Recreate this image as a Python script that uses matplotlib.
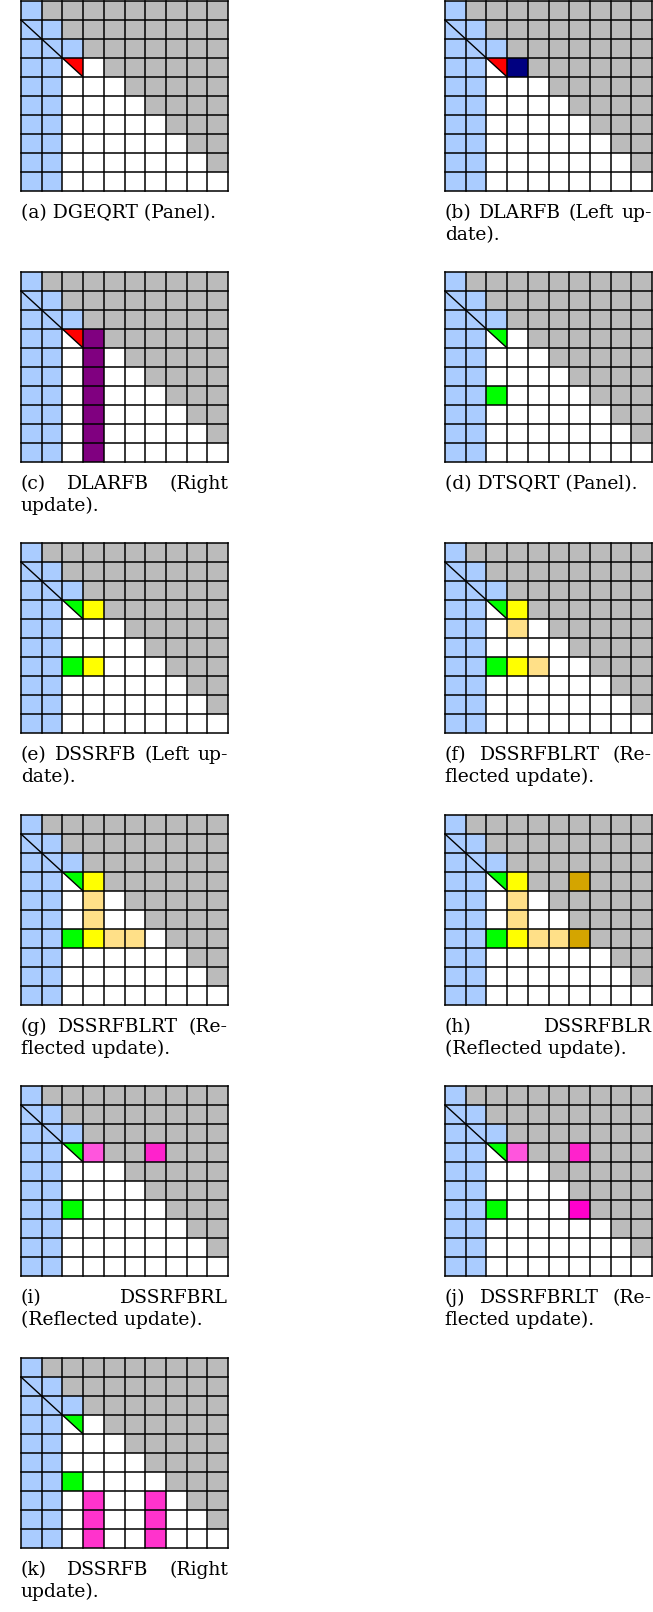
import matplotlib
matplotlib.use("Agg")
import matplotlib.pyplot as plt
from matplotlib.patches import Rectangle, Polygon

# ── 数据 ──
# base layout of the 10x10 tile matrix: B = blue (V), G = gray (R/untouched), W = white, T = split tile
BASE_ROWS = [
    "BGGGGGGGGG",
    "BBGGGGGGGG",
    "BBBGGGGGGG",
    "BBTWGGGGGG",
    "BBWWWGGGGG",
    "BBWWWWGGGG",
    "BBWWWWWGGG",
    "BBWWWWWWGG",
    "BBWWWWWWWG",
    "BBWWWWWWWW",
]
BASE_COLORS = {"B": "#aaccff", "G": "#bbbbbb", "W": "#ffffff", "T": "#ffffff"}

PANEL_IDS = ["a", "b", "c", "d", "e", "f", "g", "h", "i", "j", "k"]
TRI_COLORS = ["#ff0000", "#ff0000", "#ff0000", "#00ff00", "#00ff00", "#00ff00",
              "#00ff00", "#00ff00", "#00ff00", "#00ff00", "#00ff00"]

# highlighted tiles per panel: (row, col, colour)
HIGHLIGHTS = {
    "a": [],
    "b": [(3, 3, "#000080")],
    "c": [(3, 3, "#800080"), (4, 3, "#800080"), (5, 3, "#800080"), (6, 3, "#800080"),
          (7, 3, "#800080"), (8, 3, "#800080"), (9, 3, "#800080")],
    "d": [(6, 2, "#00ff00")],
    "e": [(3, 3, "#ffff00"), (6, 2, "#00ff00"), (6, 3, "#ffff00")],
    "f": [(3, 3, "#ffff00"), (4, 3, "#ffe088"), (6, 2, "#00ff00"), (6, 3, "#ffff00"),
          (6, 4, "#ffe088")],
    "g": [(3, 3, "#ffff00"), (4, 3, "#ffe088"), (5, 3, "#ffe088"), (6, 2, "#00ff00"),
          (6, 3, "#ffff00"), (6, 4, "#ffe088"), (6, 5, "#ffe088")],
    "h": [(3, 3, "#ffff00"), (4, 3, "#ffe088"), (5, 3, "#ffe088"), (6, 2, "#00ff00"),
          (6, 3, "#ffff00"), (6, 4, "#ffe088"), (6, 5, "#ffe088"),
          (3, 6, "#d4a500"), (6, 6, "#d4a500")],
    "i": [(3, 3, "#ff55dd"), (3, 6, "#ff22cc"), (6, 2, "#00ff00")],
    "j": [(3, 3, "#ff55dd"), (3, 6, "#ff22cc"), (6, 2, "#00ff00"), (6, 6, "#ff00cc")],
    "k": [(6, 2, "#00ff00"), (7, 3, "#ff33cc"), (8, 3, "#ff33cc"), (9, 3, "#ff33cc"),
          (7, 6, "#ff33cc"), (8, 6, "#ff33cc"), (9, 6, "#ff33cc")],
}

CAPTIONS = {
    "a": ["(a) DGEQRT (Panel)."],
    "b": ["(b) DLARFB (Left up-", "date)."],
    "c": ["(c) DLARFB (Right", "update)."],
    "d": ["(d) DTSQRT (Panel)."],
    "e": ["(e) DSSRFB (Left up-", "date)."],
    "f": ["(f) DSSRFBLRT (Re-", "flected update)."],
    "g": ["(g) DSSRFBLRT (Re-", "flected update)."],
    "h": ["(h) DSSRFBLR", "(Reflected update)."],
    "i": ["(i) DSSRFBRL", "(Reflected update)."],
    "j": ["(j) DSSRFBRLT (Re-", "flected update)."],
    "k": ["(k) DSSRFB (Right", "update)."],
}

# ── 版面 (像素) ──
W, H = 653, 1612
COL_X = [21, 445]
ROW_TOP = [1, 272, 543, 815, 1086, 1358]
GRID_W, GRID_H = 207, 190
FS = 13.5
LW = 1.1


def draw_grid(ax, pid, tri_color):
    n = len(BASE_ROWS)
    for r, row in enumerate(BASE_ROWS):
        for c, code in enumerate(row):
            ax.add_patch(Rectangle((c, r), 1, 1, facecolor=BASE_COLORS[code],
                                   edgecolor="none", clip_on=False))
    for r, c, col in HIGHLIGHTS[pid]:
        ax.add_patch(Rectangle((c, r), 1, 1, facecolor=col, edgecolor="none",
                               clip_on=False))
    # split tile: upper-right triangle coloured
    for r, row in enumerate(BASE_ROWS):
        for c, code in enumerate(row):
            if code == "T":
                ax.add_patch(Polygon([(c, r), (c + 1, r), (c + 1, r + 1)],
                                     closed=True, facecolor=tri_color,
                                     edgecolor="none", clip_on=False))
    for k in range(n + 1):
        ax.plot([0, n], [k, k], color="black", lw=LW, clip_on=False,
                solid_capstyle="projecting")
        ax.plot([k, k], [0, n], color="black", lw=LW, clip_on=False,
                solid_capstyle="projecting")
    ax.plot([0, 3], [1, 4], color="black", lw=LW * 0.9, clip_on=False)
    ax.set_xlim(0, n)
    ax.set_ylim(n, 0)
    ax.axis("off")


def place_caption(fig, renderer, lines, x0, x1, y_base):
    for li, line in enumerate(lines):
        y = y_base + li * 22
        yf = 1 - y / H
        words = line.split(" ")
        justify = (li < len(lines) - 1) and len(words) > 1
        if not justify:
            fig.text(x0 / W, yf, line, ha="left", va="baseline",
                     fontsize=FS, family="DejaVu Serif")
            continue
        texts = [fig.text(0, yf, w, ha="left", va="baseline", fontsize=FS,
                          family="DejaVu Serif") for w in words]
        widths = [t.get_window_extent(renderer).width for t in texts]
        gap = (x1 - x0 - sum(widths)) / (len(words) - 1)
        x = x0
        for t, wd in zip(texts, widths):
            t.set_x(x / W)
            x += wd + gap


fig = plt.figure(figsize=(W / 100, H / 100), dpi=100)
fig.patch.set_facecolor("white")
renderer = fig.canvas.get_renderer()

for idx, pid in enumerate(PANEL_IDS):
    row, col = divmod(idx, 2)
    x0 = COL_X[col]
    top = ROW_TOP[row]
    ax = fig.add_axes([x0 / W, 1 - (top + GRID_H) / H, GRID_W / W, GRID_H / H])
    draw_grid(ax, pid, TRI_COLORS[idx])
    place_caption(fig, renderer, CAPTIONS[pid], x0, x0 + GRID_W, top + GRID_H + 27)

fig.savefig("out.png", dpi=100)
plt.close(fig)
